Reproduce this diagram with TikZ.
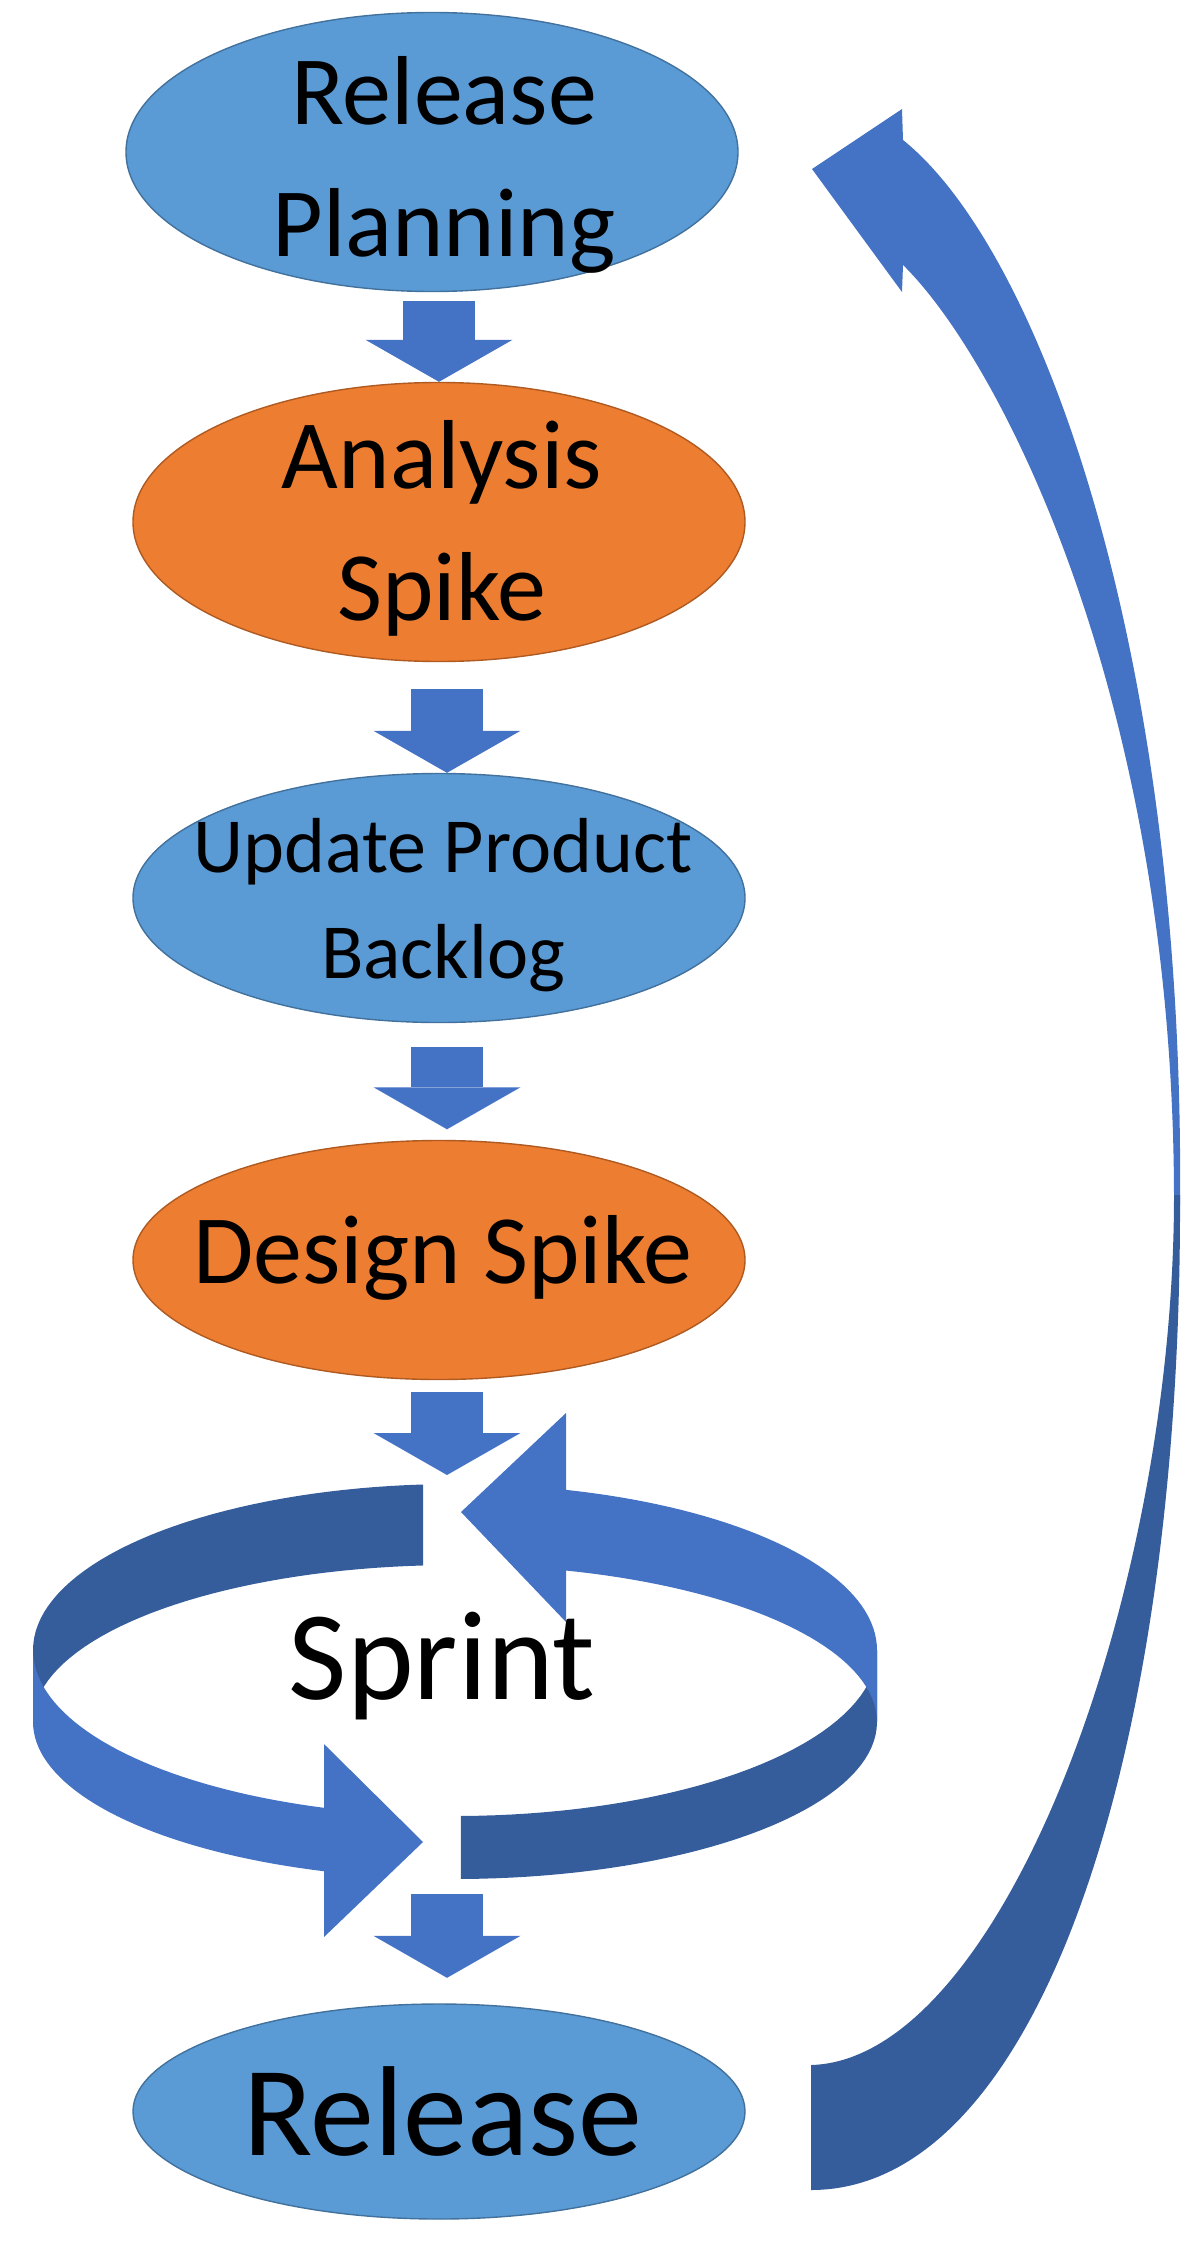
\documentclass[tikz,border=0pt]{standalone}
\usepackage{fontspec}
\setmainfont{Carlito}
\usepackage{tikz}
\usetikzlibrary{arrows.meta,shapes.geometric,calc}
\definecolor{stageblue}{RGB}{91,155,213}
\definecolor{stageline}{RGB}{65,113,156}
\definecolor{spikeorange}{RGB}{237,125,49}
\definecolor{spikeline}{RGB}{174,90,33}
\definecolor{flowblue}{RGB}{68,114,196}
\definecolor{flowdark}{RGB}{54,93,155}

\begin{document}
\begin{tikzpicture}[
  x=0.5pt, y=-0.5pt,
  stage/.style={ellipse, draw=stageline, fill=stageblue, line width=0.7pt, minimum width=306pt, inner sep=0pt},
  spike/.style={stage, draw=spikeline, fill=spikeorange},
  lbl/.style={align=center, inner sep=0pt, font=\fontsize{49}{66}\selectfont},
  flow/.style={draw=flowblue, line width=36pt, -{Triangle[width=73.5pt, length=21pt, line width=0pt]}},
  declare function={rimx(\t)=455+422*cos(\t); rimtop(\t)=1650-166*sin(\t); rimbot(\t)=1722-157*sin(\t);},
]
  \useasboundingbox (0,0) rectangle (1196,2264);

  % stages
  \node[stage, minimum height=139.5pt] (plan) at (432,152) {};
  \node[spike, minimum height=139.5pt] (analysis) at (439,522) {};
  \node[stage, minimum height=124.5pt] (backlog) at (439,898) {};
  \node[spike, minimum height=119.5pt] (design) at (439,1260) {};
  \node[stage, minimum height=107.5pt] (release) at (439,2111.5) {};

  \node[lbl] (plantext) at (444,165) {Release\\Planning};
  \node[lbl] (analysistext) at (442,528) {Analysis\\Spike};
  \node[lbl, font=\fontsize{39}{53}\selectfont] (backlogtext) at (443,905) {Update Product\\Backlog};
  \node[lbl, anchor=base] (designtext) at (443,1283) {Design Spike};
  \node[lbl, anchor=base, font=\fontsize{64}{77}\selectfont] (releasetext) at (443,2155) {Release};

  % sprint loop
  \fill[flowdark] plot[domain=94.35:180, samples=40] ({rimx(\x)}, {rimtop(\x)})
    -- plot[domain=180:94.35, samples=40] ({rimx(\x)}, {rimbot(\x)}) -- cycle;
  \fill[flowdark] plot[domain=270.81:360, samples=40] ({rimx(\x)}, {rimtop(\x)})
    -- plot[domain=360:270.81, samples=40] ({rimx(\x)}, {rimbot(\x)}) -- cycle;
  \fill[flowblue] plot[domain=180:251.92, samples=40] ({rimx(\x)}, {rimtop(\x)})
    -- (324,1744) -- (423,1842) -- (324,1937)
    -- plot[domain=251.92:180, samples=40] ({rimx(\x)}, {rimbot(\x)}) -- cycle;
  \fill[flowblue] plot[domain=74.75:0, samples=40] ({rimx(\x)}, {rimtop(\x)})
    -- plot[domain=0:74.75, samples=40] ({rimx(\x)}, {rimbot(\x)})
    -- (566,1622) -- (461,1512) -- (566,1413) -- cycle;
  \node[lbl, anchor=base, font=\fontsize{63.5}{76}\selectfont] (sprint) at (442,1699) {Sprint};
  \coordinate (sprintin) at (447,1475);
  \coordinate (sprintout) at (447,1894);

  % flow between stages
  \draw[flow, shorten <=4.25pt] (plan.south -| analysis.north) -- (analysis.north);
  \draw[flow, shorten <=13.25pt] ([xshift=4pt]analysis.south) -- ([xshift=4pt]backlog.north);
  \draw[flow, shorten <=11.75pt, shorten >=5.25pt] ([xshift=4pt]backlog.south) -- ([xshift=4pt]design.north);
  \draw[flow, shorten <=5.75pt] ([xshift=4pt]design.south) -- (sprintin);
  \draw[flow, shorten >=12.75pt] (sprintout) -- ([xshift=4pt]release.north);

  % back to release planning
  \fill[flowblue] (903,265) -- (902,292) -- (812,169) -- (902,109) -- (903,140)
    .. controls (1040,250) and (1185,650) .. (1180,1205)
    -- (1174,1205) .. controls (1175,700) and (1000,360) .. (903,265) -- cycle;
  \fill[flowdark] (1180,1195) .. controls (1182,1750) and (1040,2190) .. (811,2190)
    -- (811,2065) .. controls (1000,2060) and (1174,1600) .. (1174,1195) -- cycle;
\end{tikzpicture}
\end{document}
